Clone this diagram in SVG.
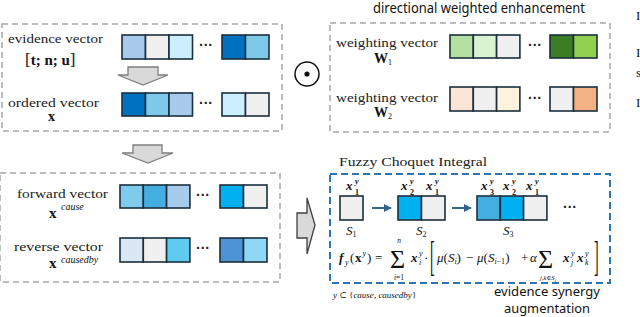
<svg xmlns="http://www.w3.org/2000/svg" width="640" height="317" viewBox="0 0 640 317">
<style>
.gbox{fill:none;stroke:#a6a6a6;stroke-width:1.5;stroke-dasharray:6 4}
.bbox{fill:none;stroke:#2e75b6;stroke-width:2;stroke-dasharray:7 4}
.sq rect{stroke:#1b2f3d;stroke-width:1.6}
.lbl{font-family:"Liberation Serif","DejaVu Serif",serif;font-size:13px;fill:#222}
.math{font-family:"Liberation Serif","DejaVu Serif",serif;fill:#111}
.it{font-style:italic}
.bd{font-weight:bold}
.sans{font-family:"Noto Sans","Liberation Sans",sans-serif;fill:#111}
.dots{font-family:"Liberation Sans",sans-serif;font-size:14px;font-weight:bold;fill:#222}
.blk{fill:#d9d9d9;stroke:#7f7f7f;stroke-width:1.3}
.conn{stroke:#2f6690;stroke-width:2;fill:none}
</style>
<defs>
<marker id="ah" viewBox="0 0 10 10" refX="9" refY="5" markerWidth="4" markerHeight="4" orient="auto">
<path d="M0,0 L10,5 L0,10 z" fill="#2f6690"/>
</marker>
</defs>

<!-- Evidence / ordered vector box -->
<g id="box-evidence">
<rect class="gbox" x="2" y="24" width="280" height="107"/>
<text class="lbl" x="8" y="43" textLength="95" lengthAdjust="spacingAndGlyphs">evidence vector</text>
<text class="math bd" x="25" y="65" font-size="15"><tspan font-weight="normal" font-size="17">[</tspan>t; n; u<tspan font-weight="normal" font-size="17">]</tspan></text>
<g class="sq">
<rect x="122" y="35" width="23.5" height="24" fill="#a8cbed"/>
<rect x="145.5" y="35" width="23.5" height="24" fill="#f0f0f0"/>
<rect x="169" y="35" width="23.5" height="24" fill="#cdeefc"/>
<rect x="222" y="35" width="23.5" height="24" fill="#0070c0"/>
<rect x="245.5" y="35" width="23.5" height="24" fill="#7ec8ea"/>
</g>
<text class="dots" x="206" y="50" text-anchor="middle">···</text>
<text class="lbl" x="8" y="107" textLength="91" lengthAdjust="spacingAndGlyphs">ordered vector</text>
<text class="math bd" x="48" y="121" font-size="14">x</text>
<g class="sq">
<rect x="122" y="93" width="23.5" height="23" fill="#0070c0"/>
<rect x="145.5" y="93" width="23.5" height="23" fill="#7ec8ea"/>
<rect x="169" y="93" width="23.5" height="23" fill="#a8cbed"/>
<rect x="222" y="93" width="23.5" height="23" fill="#cdeefc"/>
<rect x="245.5" y="93" width="23.5" height="23" fill="#f0f0f0"/>
</g>
<text class="dots" x="206" y="108" text-anchor="middle">···</text>
</g>

<!-- odot operator -->
<g id="odot">
<circle cx="307" cy="74" r="12" fill="none" stroke="#111" stroke-width="1.5"/>
<circle cx="307" cy="74" r="2.6" fill="#111"/>
</g>

<!-- weighting vectors box -->
<g id="box-weighting">
<text class="sans" x="479" y="13" font-size="13.5" text-anchor="middle" textLength="212" lengthAdjust="spacingAndGlyphs">directional weighted enhancement</text>
<rect class="gbox" x="330" y="23" width="280" height="109"/>
<text class="lbl" x="336" y="47" textLength="102" lengthAdjust="spacingAndGlyphs">weighting vector</text>
<text class="math bd" x="374" y="63" font-size="14">W<tspan font-size="8" dy="2" font-weight="normal">1</tspan></text>
<g class="sq">
<rect x="450" y="35" width="23.3" height="23" fill="#b3e0a0"/>
<rect x="473.3" y="35" width="23.3" height="23" fill="#d9f2d0"/>
<rect x="496.6" y="35" width="23.3" height="23" fill="#f0f0f0"/>
<rect x="550" y="35" width="23.5" height="23" fill="#3a7d22"/>
<rect x="573.5" y="35" width="23.5" height="23" fill="#92d050"/>
</g>
<text class="dots" x="535" y="50" text-anchor="middle">···</text>
<text class="lbl" x="336" y="102" textLength="102" lengthAdjust="spacingAndGlyphs">weighting vector</text>
<text class="math bd" x="374" y="117" font-size="14">W<tspan font-size="8" dy="2" font-weight="normal">2</tspan></text>
<g class="sq">
<rect x="450" y="87" width="23.3" height="24" fill="#fce4d6"/>
<rect x="473.3" y="87" width="23.3" height="24" fill="#f0f0f0"/>
<rect x="496.6" y="87" width="23.3" height="24" fill="#fbf3dc"/>
<rect x="550" y="87" width="23.5" height="24" fill="#f0f0f0"/>
<rect x="573.5" y="87" width="23.5" height="24" fill="#f4b183"/>
</g>
<text class="dots" x="535" y="103" text-anchor="middle">···</text>
</g>

<!-- forward / reverse box -->
<g id="box-direction">
<rect class="gbox" x="0" y="173" width="280" height="109"/>
<text class="lbl" x="17" y="198" textLength="91" lengthAdjust="spacingAndGlyphs">forward vector</text>
<text class="math bd" x="49" y="218" font-size="15">x</text>
<text class="math it" x="61" y="210" font-size="10">cause</text>
<g class="sq">
<rect x="120" y="185" width="23.3" height="23" fill="#7ecbeb"/>
<rect x="143.3" y="185" width="23.3" height="23" fill="#45aee0"/>
<rect x="166.6" y="185" width="23.3" height="23" fill="#a7cbec"/>
<rect x="220" y="185" width="23.5" height="23" fill="#00b0f0"/>
<rect x="243.5" y="185" width="23.5" height="23" fill="#f0f0f0"/>
</g>
<text class="dots" x="203" y="200" text-anchor="middle">···</text>
<text class="lbl" x="14" y="251" textLength="89" lengthAdjust="spacingAndGlyphs">reverse vector</text>
<text class="math bd" x="49" y="268" font-size="15">x</text>
<text class="math it" x="61" y="263" font-size="10">causedby</text>
<g class="sq">
<rect x="120" y="238" width="23.3" height="24" fill="#dae8f6"/>
<rect x="143.3" y="238" width="23.3" height="24" fill="#f0f0f0"/>
<rect x="166.6" y="238" width="23.3" height="24" fill="#5fcbf3"/>
<rect x="220" y="238" width="23.5" height="24" fill="#4b93d4"/>
<rect x="243.5" y="238" width="23.5" height="24" fill="#8fd7f5"/>
</g>
<text class="dots" x="203" y="253" text-anchor="middle">···</text>
</g>

<!-- Fuzzy Choquet Integral box -->
<g id="box-choquet">
<text class="lbl" x="339" y="166" font-size="13" textLength="148" lengthAdjust="spacingAndGlyphs">Fuzzy Choquet Integral</text>
<rect class="bbox" x="330" y="174" width="280" height="109"/>
<g class="sq">
<rect x="340" y="196" width="23" height="24" fill="#f0f0f0"/>
<rect x="398" y="196" width="23.5" height="24" fill="#00b0f0"/>
<rect x="421.5" y="196" width="23.5" height="24" fill="#f0f0f0"/>
<rect x="477" y="196" width="23.3" height="24" fill="#45aee0"/>
<rect x="500.3" y="196" width="23.3" height="24" fill="#00b0f0"/>
<rect x="523.6" y="196" width="23.3" height="24" fill="#f0f0f0"/>
</g>
<text class="dots" x="570" y="212" text-anchor="middle">···</text>
<g class="math it bd" font-size="13">
<text x="346" y="190">x</text><text x="355" y="184" font-size="8">y</text><text x="355" y="195" font-size="8" font-style="normal">1</text>
<text x="401" y="190">x</text><text x="410" y="184" font-size="8">y</text><text x="410" y="195" font-size="8" font-style="normal">2</text>
<text x="426" y="190">x</text><text x="435" y="184" font-size="8">y</text><text x="435" y="195" font-size="8" font-style="normal">1</text>
<text x="481" y="190">x</text><text x="490" y="184" font-size="8">y</text><text x="490" y="195" font-size="8" font-style="normal">3</text>
<text x="503" y="190">x</text><text x="512" y="184" font-size="8">y</text><text x="512" y="195" font-size="8" font-style="normal">2</text>
<text x="526" y="190">x</text><text x="535" y="184" font-size="8">y</text><text x="535" y="195" font-size="8" font-style="normal">1</text>
</g>
<g class="math it" font-size="13">
<text x="346" y="235">S<tspan font-size="8" dy="2" font-style="normal">1</tspan></text>
<text x="416" y="235">S<tspan font-size="8" dy="2" font-style="normal">2</tspan></text>
<text x="503" y="235">S<tspan font-size="8" dy="2" font-style="normal">3</tspan></text>
</g>
<!-- formula -->
<g class="math" font-size="13">
<text x="339" y="262" class="it bd">f</text>
<text x="345" y="265" font-size="8" class="it">y</text>
<text x="350" y="262">(</text>
<text x="355" y="262" class="bd">x</text>
<text x="362.5" y="256" font-size="8" class="it">y</text>
<text x="367" y="262">)</text>
<text x="375" y="262">=</text>
<text x="390" y="268" font-size="26">Σ</text>
<text x="399" y="243" font-size="7.5" class="it" text-anchor="middle">n</text>
<text x="399" y="280" font-size="7.5" text-anchor="middle"><tspan class="it">i</tspan>=1</text>
<text x="411" y="262" class="it bd">x</text>
<text x="419" y="256" font-size="8" class="it">y</text>
<text x="419" y="265" font-size="8" class="it">i</text>
<text x="424" y="262">·</text>
<text transform="translate(430,270) scale(1,3)" font-size="14">[</text>
<text x="437" y="262"><tspan class="it">μ</tspan>(<tspan class="it">S</tspan><tspan font-size="8" dy="2" class="it">i</tspan><tspan dy="-2">)</tspan></text>
<text x="466" y="262">−</text>
<text x="477" y="262"><tspan class="it">μ</tspan>(<tspan class="it">S</tspan><tspan font-size="8" dy="2"><tspan class="it">i</tspan>−1</tspan><tspan dy="-2">)</tspan></text>
<text x="521" y="262">+</text>
<text x="530" y="262" class="it">α</text>
<text x="538" y="268" font-size="26">Σ</text>
<text x="548" y="280" font-size="6.5" class="it" text-anchor="middle">j,k∈S<tspan font-size="5" dy="1.5">i</tspan></text>
<text x="563" y="262" class="it bd">x</text>
<text x="571" y="256" font-size="8" class="it">y</text>
<text x="571" y="265" font-size="8" class="it">j</text>
<text x="577" y="262" class="it bd">x</text>
<text x="585" y="256" font-size="8" class="it">y</text>
<text x="585" y="265" font-size="8" class="it">k</text>
<text transform="translate(594,270) scale(1,3)" font-size="14">]</text>
</g>
<text class="math it" x="333" y="298" font-size="9">y <tspan font-style="normal">⊂ {</tspan>cause<tspan font-style="normal">, </tspan>causedby<tspan font-style="normal">}</tspan></text>
<text class="sans" x="547" y="296" font-size="13" text-anchor="middle" textLength="106" lengthAdjust="spacingAndGlyphs">evidence synergy</text>
<text class="sans" x="547" y="313" font-size="13" text-anchor="middle" textLength="86" lengthAdjust="spacingAndGlyphs">augmentation</text>
</g>

<!-- connectors -->
<g id="connectors">
<path class="blk" d="M128,67 H158 V75 H168 L143,85 L118,75 H128 Z"/>
<path class="blk" d="M133,145 H162 V153 H173 L148,163 L122,153 H133 Z"/>
<path d="M297,213 H307 V198 L315,225 L307,254 V238 H297 Z" fill="#d9d9d9" stroke="#404040" stroke-width="1.3"/>
<line class="conn" x1="372" y1="208" x2="391" y2="208" marker-end="url(#ah)"/>
<line class="conn" x1="452" y1="208" x2="471" y2="208" marker-end="url(#ah)"/>
</g>

<!-- cropped neighbouring text at right edge -->
<g class="math" font-size="13" fill="#222">
<text x="636" y="20">I</text>
<text x="636" y="57">I</text>
<text x="636" y="77">s</text>
<text x="636" y="107">I</text>
</g>
</svg>
